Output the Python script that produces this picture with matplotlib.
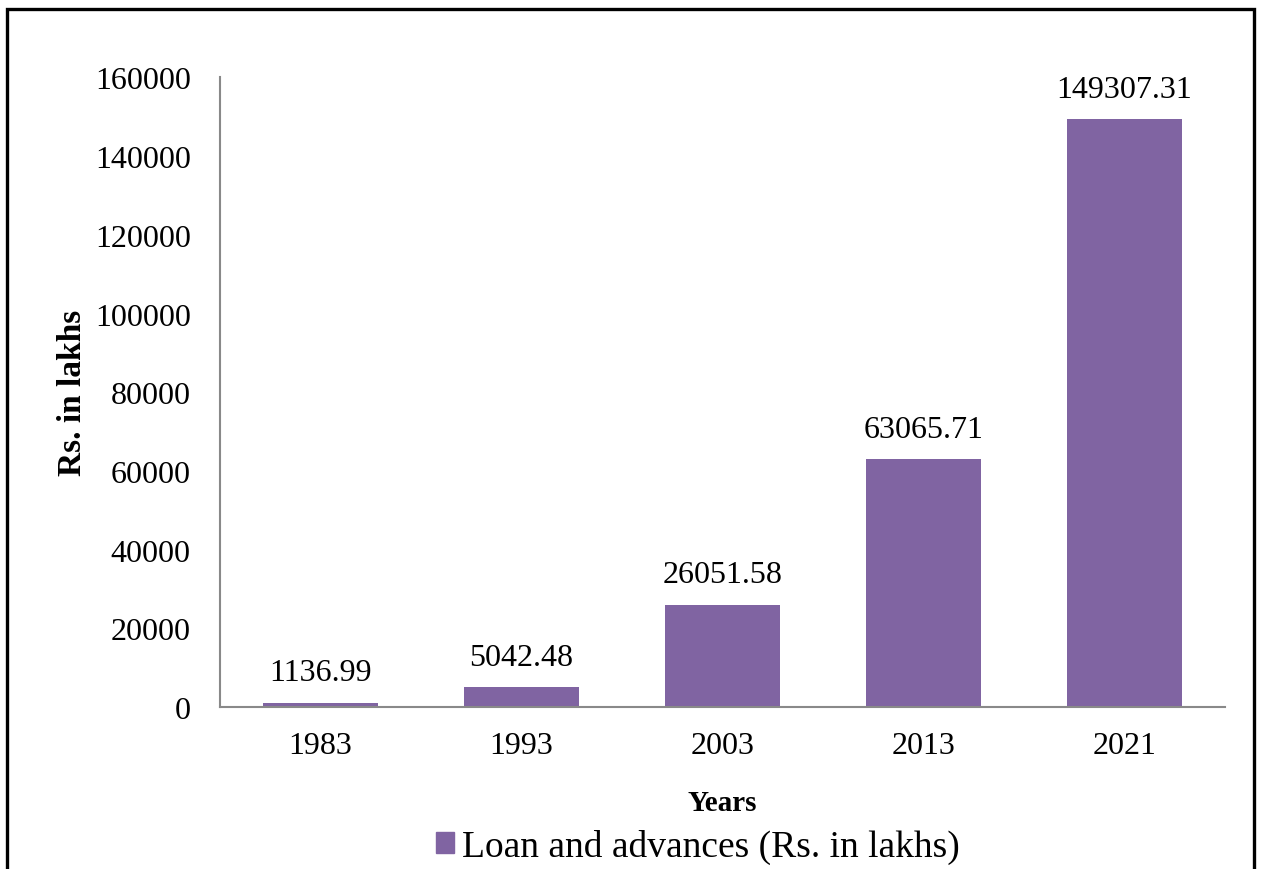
import matplotlib.pyplot as plt
from matplotlib.patches import Rectangle, Patch

# Data
years = ["1983", "1993", "2003", "2013", "2021"]
loans = [1136.99, 5042.48, 26051.58, 63065.71, 149307.31]
value_labels = ["1136.99", "5042.48", "26051.58", "63065.71", "149307.31"]
y_ticks = [0, 20000, 40000, 60000, 80000, 100000, 120000, 140000, 160000]

bar_color = "#8064A2"
spine_color = "#898989"

plt.rcParams["font.family"] = ["Liberation Serif", "DejaVu Serif"]

fig = plt.figure(figsize=(12.64, 8.70), dpi=100)
ax = fig.add_axes([0.174, 0.186, 0.795, 0.724])

x = range(len(years))
bars = ax.bar(x, loans, width=0.57, color=bar_color)

for xi, val, lab in zip(x, loans, value_labels):
    ax.annotate(lab, (xi, val), xytext=(0, 11), textcoords="offset points",
                ha="center", va="bottom", fontsize=23)

ax.set_xlim(-0.5, len(years) - 0.5)
ax.set_ylim(0, 160000)
ax.set_xticks(list(x))
ax.set_xticklabels(years, fontsize=23)
ax.set_yticks(y_ticks)
ax.set_yticklabels([str(t) for t in y_ticks], fontsize=23)
ax.tick_params(axis="x", length=0, pad=17)
ax.tick_params(axis="y", length=0, pad=21)

for side in ["top", "right"]:
    ax.spines[side].set_visible(False)
for side in ["left", "bottom"]:
    ax.spines[side].set_color(spine_color)
    ax.spines[side].set_linewidth(1.5)

ax.set_xlabel("Years", fontsize=21, fontweight="bold", labelpad=21)
ax.set_ylabel("Rs. in lakhs", fontsize=24, fontweight="bold", labelpad=5)

legend_handle = Patch(facecolor=bar_color, edgecolor=bar_color,
                      label="Loan and advances (Rs. in lakhs)")
fig.legend(handles=[legend_handle], loc="center", bbox_to_anchor=(0.552, 0.026),
           frameon=False, fontsize=27, handlelength=0.5, handleheight=0.5,
           handletextpad=0.2, borderaxespad=0)

# black frame around the chart area
fig.patches.append(Rectangle((0.0055, -0.05), 0.9865, 1.0385, transform=fig.transFigure,
                             fill=False, edgecolor="black", linewidth=2.4))

fig.savefig("out.png", dpi=100)
